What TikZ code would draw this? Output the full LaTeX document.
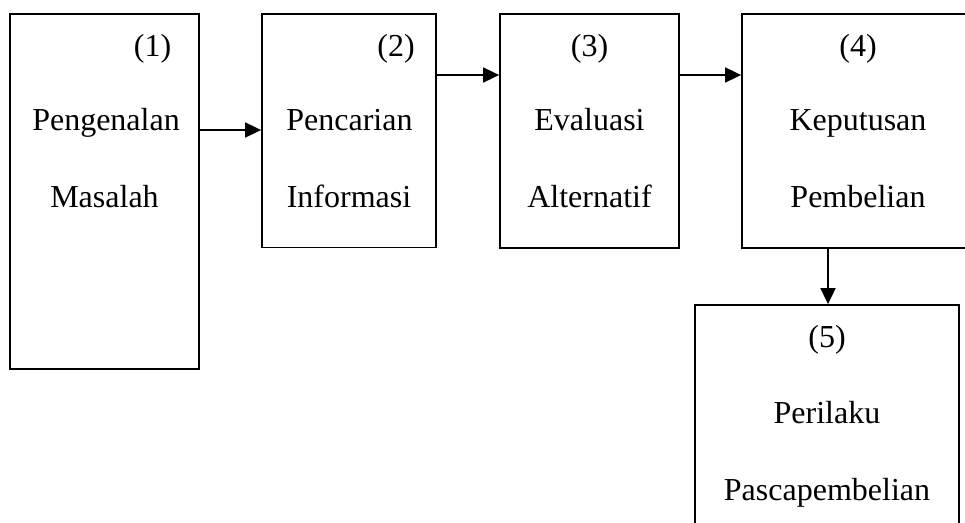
\documentclass[tikz,border=0pt]{standalone}
\usepackage{fontspec}
\setmainfont{Liberation Serif}
\usetikzlibrary{arrows.meta}
\tikzset{
  box/.style={draw, line width=1.8pt, minimum width=#1, inner sep=0pt},
  lbl/.style={anchor=base, inner sep=0pt, font=\fontsize{32}{38}\selectfont},
  arr/.style={line width=1.8pt, -{Triangle[length=16pt,width=15pt]}}
}
\begin{document}
\begin{tikzpicture}[x=1pt,y=-1pt]
\clip (0,0) rectangle (965,522);
\fill[white] (0,0) rectangle (965,522);
% boxes
\node[box=189pt, minimum height=355pt] (b1) at (104.5,191.5) {};
\node[box=174pt, minimum height=233.5pt] (b2) at (349,130.75) {};
\node[box=179pt, minimum height=234pt] (b3) at (589.5,131) {};
\node[box=233pt, minimum height=234pt] (b4) at (858.5,131) {};
\node[box=264pt, minimum height=240pt] (b5) at (827,425) {};
% labels
\node[lbl] (n1) at (152.5,56) {(1)};
\node[lbl] (t1a) at (106,130) {Pengenalan};
\node[lbl] (t1b) at (104.5,207) {Masalah};
\node[lbl] (n2) at (396,56) {(2)};
\node[lbl] (t2a) at (349.5,130) {Pencarian};
\node[lbl] (t2b) at (349,207) {Informasi};
\node[lbl] (n3) at (589.5,56) {(3)};
\node[lbl] (t3a) at (589.5,130) {Evaluasi};
\node[lbl] (t3b) at (589.5,207) {Alternatif};
\node[lbl] (n4) at (858,56) {(4)};
\node[lbl] (t4a) at (858,130) {Keputusan};
\node[lbl] (t4b) at (858,207) {Pembelian};
\node[lbl] (n5) at (827,347) {(5)};
\node[lbl] (t5a) at (827,423) {Perilaku};
\node[lbl] (t5b) at (827,500) {Pascapembelian};
% connectors
\coordinate (ya) at (0,130);
\coordinate (yb) at (0,75);
\coordinate (xc) at (828,0);
\draw[arr] (b1.east |- ya) -- (b2.west |- ya);
\draw[arr] (b2.east |- yb) -- (b3.west |- yb);
\draw[arr] (b3.east |- yb) -- (b4.west |- yb);
\draw[arr] (b4.south -| xc) -- (b5.north -| xc);
\end{tikzpicture}
\end{document}
